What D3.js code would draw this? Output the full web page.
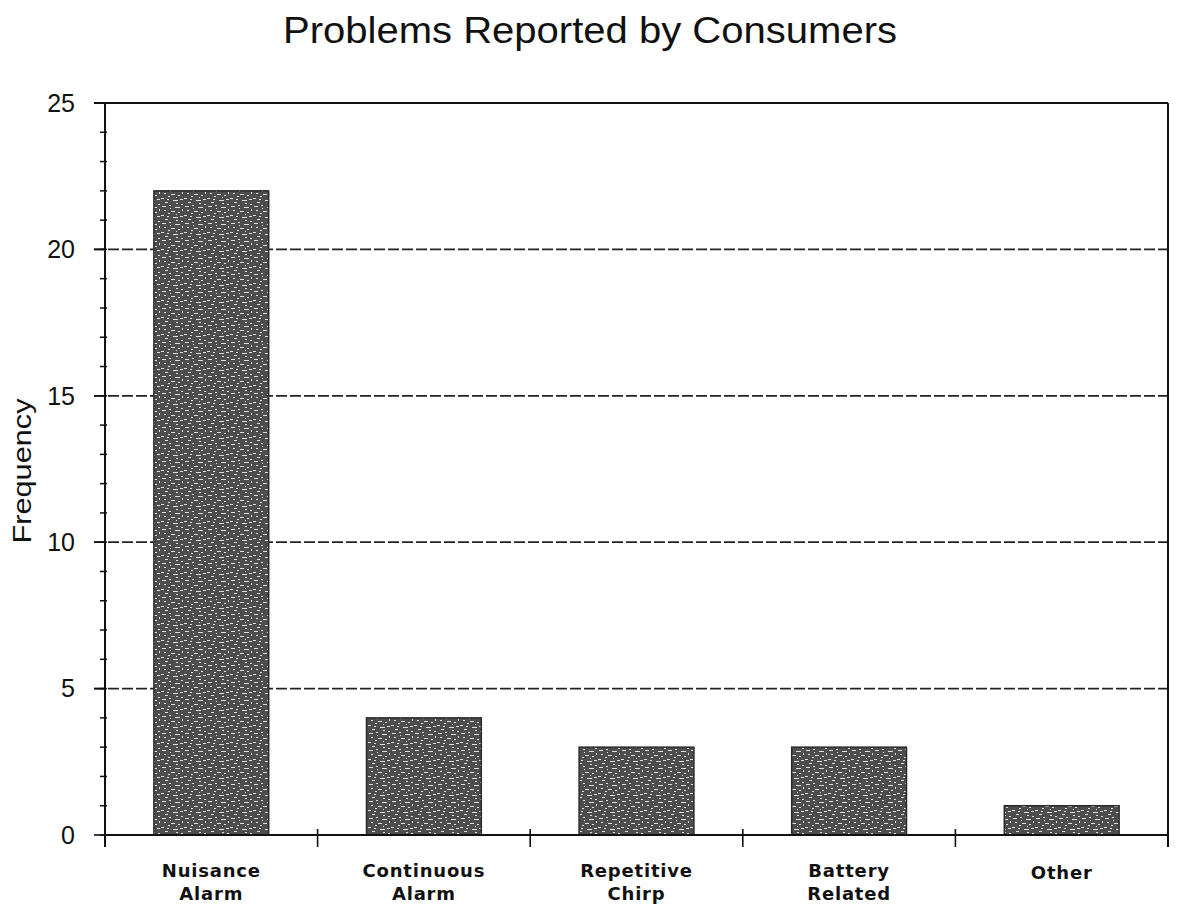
<!DOCTYPE html>
<html><head><meta charset="utf-8">
<script src="https://cdn.jsdelivr.net/npm/d3@7"></script>
<style>body{margin:0;background:#fff}svg{display:block}</style>
</head><body>
<script>
const categories = [["Nuisance","Alarm"],["Continuous","Alarm"],["Repetitive","Chirp"],["Battery","Related"],["Other"]];
const values = [22, 4, 3, 3, 1];
const yTicks = [0, 5, 10, 15, 20, 25];
const minorTicks = d3.range(0, 26, 1);
const title = "Problems Reported by Consumers";
const yTitle = "Frequency";

const W = 1177, H = 907;
const m = {left: 105, right: 1168, top: 103, bottom: 835};
const svg = d3.select("body").append("svg").attr("width", W).attr("height", H);

const defs = svg.append("defs");
const pat = defs.append("pattern").attr("id","speck").attr("patternUnits","userSpaceOnUse")
  .attr("width", 23).attr("height", 17);
pat.append("rect").attr("width",23).attr("height",17).attr("fill","#4d4d4d");
const specks = [[1,2,4,1],[8,1,2,1],[14,3,5,1],[20,0,2,1],[3,6,2,1],[10,7,4,1],[17,8,2,1],
  [0,11,3,1],[6,12,2,1],[12,13,5,1],[19,12,3,1],[4,15,3,1],[15,16,2,1],[21,5,1,2],[9,4,1,1],[7,9,2,1],[15,10,1,1]];
specks.forEach(s => pat.append("rect").attr("x",s[0]).attr("y",s[1]).attr("width",s[2]).attr("height",s[3]).attr("fill","#e0e0e0"));

const x = d3.scaleBand().domain(d3.range(categories.length)).range([m.left, m.right]).padding(0);
const y = d3.scaleLinear().domain([0, 25]).range([m.bottom, m.top]);

// gridlines
svg.append("g").selectAll("line").data(yTicks.filter(t => t > 0 && t < 25)).join("line")
  .attr("x1", m.left - 11).attr("x2", m.right).attr("y1", d => y(d)).attr("y2", d => y(d))
  .attr("stroke", "#222").attr("stroke-width", 1.8).attr("stroke-dasharray", "11,3");

// frame top and right
svg.append("line").attr("x1", m.left - 11).attr("x2", m.right).attr("y1", y(25)).attr("y2", y(25))
  .attr("stroke","#111").attr("stroke-width",2);
svg.append("line").attr("x1", m.right).attr("x2", m.right).attr("y1", y(25)).attr("y2", m.bottom + 12)
  .attr("stroke","#111").attr("stroke-width",2);

// bars
const bw = x.bandwidth() * 0.54;
svg.append("g").selectAll("rect").data(values).join("rect")
  .attr("x", (d,i) => x(i) + x.bandwidth()/2 - bw/2)
  .attr("width", bw)
  .attr("y", d => y(d)).attr("height", d => y(0) - y(d))
  .attr("fill", "url(#speck)").attr("stroke", "#2a2a2a").attr("stroke-width", 1.5);

// y axis
const ya = svg.append("g").attr("transform", `translate(${m.left},0)`);
ya.append("line").attr("y1", y(25)).attr("y2", m.bottom + 12).attr("stroke","#111").attr("stroke-width",2);
ya.selectAll(".mn").data(minorTicks).join("line").attr("class","mn")
  .attr("x1", -5).attr("x2", 2).attr("y1", d => y(d)).attr("y2", d => y(d)).attr("stroke","#111").attr("stroke-width",1.5);
ya.selectAll(".mj").data(yTicks).join("line").attr("class","mj")
  .attr("x1", -11).attr("x2", 0).attr("y1", d => y(d)).attr("y2", d => y(d)).attr("stroke","#111").attr("stroke-width",1.6);
ya.selectAll("text").data(yTicks).join("text")
  .attr("x", -30).attr("y", d => y(d)).attr("dy", "0.35em").attr("text-anchor","end")
  .attr("font-family","Liberation Sans, Arial, sans-serif").attr("font-size", 25).attr("fill","#111")
  .text(d => d);

// x axis
const xa = svg.append("g");
xa.append("line").attr("x1", m.left).attr("x2", m.right).attr("y1", m.bottom).attr("y2", m.bottom)
  .attr("stroke","#111").attr("stroke-width",2);
xa.selectAll(".xt").data(d3.range(categories.length + 1)).join("line").attr("class","xt")
  .attr("x1", i => i < categories.length ? x(i) : m.right).attr("x2", i => i < categories.length ? x(i) : m.right)
  .attr("y1", m.bottom - 6).attr("y2", m.bottom + 12).attr("stroke","#111").attr("stroke-width",1.6);
const lab = xa.selectAll("text").data(categories).join("text")
  .attr("x", (d,i) => x(i) + x.bandwidth()/2)
  .attr("y", d => d.length > 1 ? 877 : 879)
  .attr("text-anchor","middle")
  .attr("font-family","DejaVu Sans, sans-serif").attr("font-weight","bold").attr("font-size", 18)
  .attr("letter-spacing", 0.8).attr("fill","#111");
lab.each(function(d){
  const t = d3.select(this);
  d.forEach((s, k) => t.append("tspan").attr("x", t.attr("x")).attr("dy", k === 0 ? 0 : 23).text(s));
});

// titles
svg.append("text").attr("x", 590).attr("y", 43).attr("text-anchor","middle")
  .attr("font-family","Liberation Sans, Arial, sans-serif").attr("font-size", 36).attr("fill","#111")
  .attr("textLength", 614).attr("lengthAdjust","spacingAndGlyphs").text(title);
svg.append("text").attr("transform", `translate(31,471) rotate(-90)`).attr("text-anchor","middle")
  .attr("font-family","Liberation Sans, Arial, sans-serif").attr("font-size", 26).attr("fill","#111")
  .attr("textLength", 145).attr("lengthAdjust","spacingAndGlyphs").text(yTitle);
</script>
</body></html>
